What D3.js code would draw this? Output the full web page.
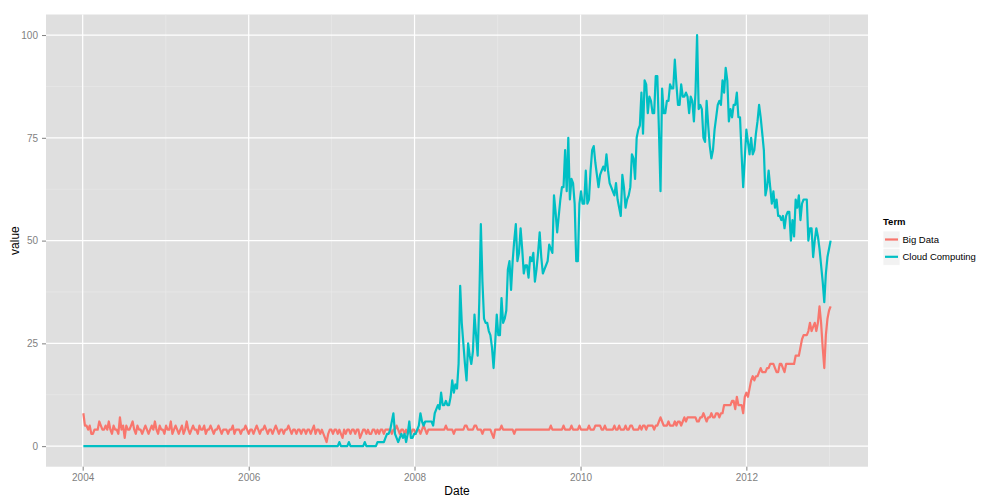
<!DOCTYPE html>
<html>
<head>
<meta charset="utf-8">
<script src="https://cdn.jsdelivr.net/npm/d3@7/dist/d3.min.js"></script>
<style>
  body { margin: 0; background: #fff; }
  svg { font-family: "Liberation Sans", Arial, sans-serif; }
</style>
</head>
<body>
<svg id="chart" width="1008" height="504"></svg>
<script>
// weekly search interest, first week starts 2004-01-04
const startWeek = "2004-01-04";
const terms = ["Big Data", "Cloud Computing"];
const termColors = ["#F8766D", "#00BFC4"];
const yTicks = [0, 25, 50, 75, 100];
const xTickYears = [2004, 2006, 2008, 2010, 2012];

const bigData = [
  8,5,5,4,5,3,3,4,4,4, 6,5,4,4,5,4,6,4,3,5, 4,4,3,7,4,5,2,5,4,4, 5,6,4,3,5,4,4,3,4,5,
  4,3,4,5,4,6,4,3,5,4, 4,3,5,4,4,6,3,4,5,4, 3,4,5,3,4,6,4,3,4,5, 4,4,3,5,4,4,5,3,4,4,
  5,4,3,4,4,5,4,3,4,4, 4,3,4,4,5,3,4,4,4,3, 4,4,5,4,3,4,4,3,4,5, 4,3,4,4,5,4,3,4,4,3,
  4,5,4,3,4,4,3,4,4,5, 4,3,4,4,3,4,4,3,4,4, 3,4,4,3,4,5,3,4,4,3, 4,3,2,1,3,4,4,3,4,4,
  3,4,3,2,4,3,4,4,3,4, 4,3,4,4,2,3,4,4,3,4, 3,3,4,4,3,4,3,4,4,3, 4,4,4,4,3,4,4,5,4,3,
  4,4,3,4,3,4,3,4,4,3, 4,4,3,4,5,4,3,4,4,4, 4,4,4,4,4,4,4,4,5,4, 4,4,4,3,4,4,4,4,4,4,
  5,5,4,4,4,4,5,5,4,4, 4,3,4,4,4,4,4,3,2,4, 4,4,4,5,4,4,4,4,4,4, 4,3,4,4,4,4,4,4,4,4,
  4,4,4,4,4,4,4,4,4,4, 4,4,4,4,5,4,4,4,4,4, 4,4,5,4,4,4,4,5,4,4, 4,4,5,4,4,4,4,4,5,4,
  4,4,5,5,5,5,4,4,5,4, 4,4,4,4,5,4,4,5,4,4, 4,5,4,4,5,5,4,4,4,4, 5,4,5,5,4,5,5,5,5,4,
  5,5,6,7,6,5,5,5,6,5, 5,5,6,5,6,6,5,6,7,6, 7,7,7,7,7,7,6,6,7,7, 8,7,6,7,7,8,7,7,8,8,
  7,8,8,10,10,10,10,10,11,11, 9,12,10,10,10,8,12,13,12,14, 16,17,16,17,17,18,19,18,18,18,
  19,19,20,20,20,19,18,18,20,20, 19,18,20,20,20,20,20,20,22,22, 22,24,26,27,27,27,28,30,28,29,
  30,28,30,34,30,24,19,27,31,33, 34
];

const cloudComputing = [
  0,0,0,0,0,0,0,0,0,0, 0,0,0,0,0,0,0,0,0,0, 0,0,0,0,0,0,0,0,0,0, 0,0,0,0,0,0,0,0,0,0,
  0,0,0,0,0,0,0,0,0,0, 0,0,0,0,0,0,0,0,0,0, 0,0,0,0,0,0,0,0,0,0, 0,0,0,0,0,0,0,0,0,0,
  0,0,0,0,0,0,0,0,0,0, 0,0,0,0,0,0,0,0,0,0, 0,0,0,0,0,0,0,0,0,0, 0,0,0,0,0,0,0,0,0,0,
  0,0,0,0,0,0,0,0,0,0, 0,0,0,0,0,0,0,0,0,0, 0,0,0,0,0,0,0,0,0,0, 0,0,0,0,0,0,0,0,0,0,
  0,1,0,0,0,0,0,1,0,0, 0,0,0,0,0,0,0,1,0,0, 0,0,0,0,0,1,1,1,1,1, 2,3,3,4,6,8,3,2,1,2,
  3,2,3,1,3,6,2,2,3,3, 4,5,8,6,5,6,6,6,6,6, 5,8,9,10,9,13,10,10,11,10, 10,12,16,13,15,14,20,39,30,25,
  20,16,25,22,20,23,32,27,22,35, 54,40,31,30,30,28,27,24,19,25, 32,27,27,36,30,31,33,43,45,38,
  45,50,54,45,47,53,48,42,44,44, 41,46,45,47,40,43,47,52,46,42, 43,44,45,49,48,47,61,57,52,56,
  60,63,63,72,62,75,60,65,64,59, 45,45,59,62,59,59,67,59,60,67, 72,73,69,66,63,66,67,68,67,71,
  67,64,63,62,61,64,60,58,56,66, 63,58,60,61,63,71,70,65,75,77, 78,86,76,89,88,81,85,84,81,81,
  90,90,77,62,87,81,81,84,84,88, 87,87,94,88,83,83,88,85,85,86, 85,81,85,84,79,86,100,82,83,82,
  75,74,84,78,73,70,72,77,80,83, 84,83,89,86,92,89,79,82,80,83, 83,86,80,80,71,63,70,77,74,71,
  75,71,72,76,79,83,80,76,72,61, 63,67,63,59,62,58,60,56,56,55, 56,53,56,57,57,50,55,51,60,58,
  61,55,59,60,60,60,50,53,53,46, 50,53,51,48,44,40,35,42,46,48, 50
];

const svg = d3.select("#chart");
const panel = {left: 46, right: 868, top: 14.5, bottom: 466.7};

const t0 = d3.timeParse("%Y-%m-%d")(startWeek);
const weekDate = i => d3.timeDay.offset(t0, 7 * i);
const series = [bigData, cloudComputing].map((vals, k) => ({
  term: terms[k],
  color: termColors[k],
  points: vals.map((v, i) => ({date: weekDate(i), value: v}))
}));

// ggplot-style 5% expansion on both axes
const dMin = weekDate(0), dMax = weekDate(d3.max(series, s => s.points.length) - 1);
const span = dMax - dMin;
const x = d3.scaleTime()
  .domain([new Date(+dMin - span * 0.05), new Date(+dMax + span * 0.05)])
  .range([panel.left, panel.right]);
const y = d3.scaleLinear()
  .domain([-5, 105])
  .range([panel.bottom, panel.top]);

// panel background
svg.append("rect")
  .attr("x", panel.left).attr("y", panel.top)
  .attr("width", panel.right - panel.left)
  .attr("height", panel.bottom - panel.top)
  .attr("fill", "#DFDFDF");

const majorX = xTickYears.map(yr => new Date(yr, 0, 1));
const minorX = xTickYears.map(yr => new Date(yr + 1, 0, 1)).filter(d => d < x.domain()[1]);
minorX.unshift(new Date(xTickYears[0] - 1, 0, 1));
const minorY = yTicks.slice(0, -1).map(v => v + 12.5);

const grid = svg.append("g");
grid.selectAll(".minx").data(minorX.filter(d => x(d) > panel.left)).join("line")
  .attr("x1", d => x(d)).attr("x2", d => x(d))
  .attr("y1", panel.top).attr("y2", panel.bottom)
  .attr("stroke", "#EBEBEB").attr("stroke-width", 0.6);
grid.selectAll(".miny").data(minorY).join("line")
  .attr("x1", panel.left).attr("x2", panel.right)
  .attr("y1", d => y(d)).attr("y2", d => y(d))
  .attr("stroke", "#EBEBEB").attr("stroke-width", 0.6);
grid.selectAll(".majx").data(majorX).join("line")
  .attr("x1", d => x(d)).attr("x2", d => x(d))
  .attr("y1", panel.top).attr("y2", panel.bottom)
  .attr("stroke", "#fff").attr("stroke-width", 1.2);
grid.selectAll(".majy").data(yTicks).join("line")
  .attr("x1", panel.left).attr("x2", panel.right)
  .attr("y1", d => y(d)).attr("y2", d => y(d))
  .attr("stroke", "#fff").attr("stroke-width", 1.2);

// lines
const line = d3.line().x(d => x(d.date)).y(d => y(d.value));
svg.append("g").selectAll("path").data(series).join("path")
  .attr("d", s => line(s.points))
  .attr("fill", "none")
  .attr("stroke", s => s.color)
  .attr("stroke-width", 2.2)
  .attr("stroke-linejoin", "round");

// axes
const xAxis = svg.append("g")
  .attr("transform", `translate(0,${panel.bottom})`)
  .call(d3.axisBottom(x).tickValues(majorX).tickFormat(d3.timeFormat("%Y")).tickSize(4).tickPadding(3));
const yAxis = svg.append("g")
  .attr("transform", `translate(${panel.left},0)`)
  .call(d3.axisLeft(y).tickValues(yTicks).tickSize(4).tickPadding(4));
[xAxis, yAxis].forEach(g => {
  g.select(".domain").remove();
  g.selectAll(".tick line").attr("stroke", "#7F7F7F");
  g.selectAll(".tick text").attr("fill", "#7F7F7F").style("font-size", "10px");
});

svg.append("text")
  .attr("x", (panel.left + panel.right) / 2).attr("y", 495)
  .attr("text-anchor", "middle")
  .style("font-size", "12px")
  .text("Date");
svg.append("text")
  .attr("transform", `translate(19,${(panel.top + panel.bottom) / 2}) rotate(-90)`)
  .attr("text-anchor", "middle")
  .style("font-size", "12px")
  .text("value");

// legend
const legend = svg.append("g").attr("transform", "translate(883,222)");
legend.append("text")
  .attr("x", 0).attr("y", 3)
  .style("font-size", "9.5px").style("font-weight", "bold")
  .text("Term");
const keys = legend.selectAll(".key").data(series).join("g")
  .attr("transform", (d, i) => `translate(0,${9 + i * 17.3})`);
keys.append("rect")
  .attr("width", 17).attr("height", 17)
  .attr("fill", "#F2F2F2").attr("stroke", "#fff").attr("stroke-width", 0.8);
keys.append("line")
  .attr("x1", 2).attr("x2", 15).attr("y1", 8.5).attr("y2", 8.5)
  .attr("stroke", d => d.color).attr("stroke-width", 2.2);
keys.append("text")
  .attr("x", 19.5).attr("y", 12)
  .style("font-size", "9.5px")
  .text(d => d.term);
</script>
</body>
</html>
